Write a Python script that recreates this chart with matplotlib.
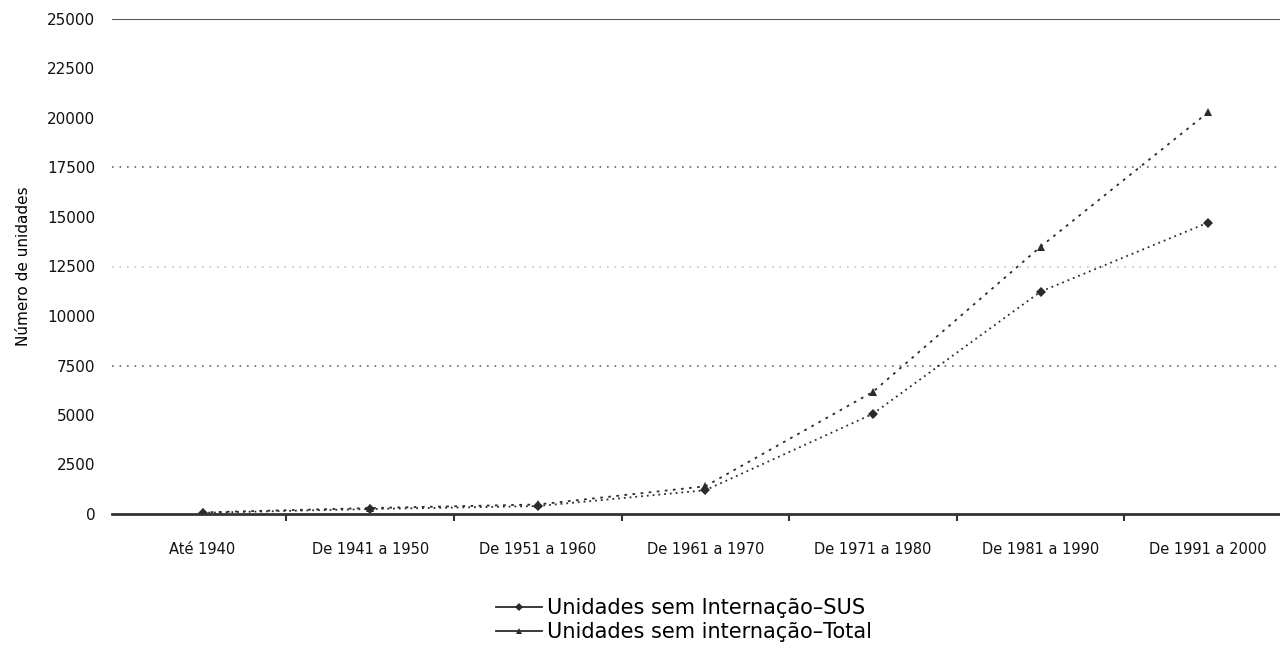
import numpy as np
import matplotlib
matplotlib.use("Agg")
import matplotlib.pyplot as plt
from matplotlib.lines import Line2D

# Unidades de saúde sem internação por período de construção
periodos = ["Até 1940", "De 1941 a 1950", "De 1951 a 1960", "De 1961 a 1970",
            "De 1971 a 1980", "De 1981 a 1990", "De 1991 a 2000"]
sus = [60, 250, 400, 1200, 5060, 11230, 14720]
total = [80, 300, 480, 1400, 6170, 13500, 20290]
yticks = [0, 2500, 5000, 7500, 10000, 12500, 15000, 17500, 20000, 22500, 25000]
grid_levels = [7500, 12500, 17500]

plt.rcParams['font.family'] = ['DejaVu Sans']

fig = plt.figure(figsize=(12.8, 6.48), dpi=100)
ax = fig.add_axes([112 / 1280, 1 - 514 / 648, 1180 / 1280, (514 - 19) / 648])

x = np.arange(len(periodos))
cor = '#2b2b2b'
ax.plot(x, sus, color=cor, linestyle=(0, (1, 2.2)), linewidth=1.3,
        marker='D', markersize=5, markeredgewidth=0)
ax.plot(x, total, color=cor, linestyle=(0, (1.5, 3)), linewidth=1.3,
        marker='^', markersize=6, markeredgewidth=0)

ax.set_ylim(0, 25000)
ax.set_xlim(-0.54, 6.5)

# linhas de grade só em alguns níveis
for g in grid_levels:
    ax.axhline(g, color='#555555', linestyle=(0, (1, 3.5)), linewidth=1.2,
               alpha=0.35 if g == 12500 else 0.9, zorder=0)
ax.axhline(25000, color='#555555', linewidth=1.5, zorder=0)

for s in ['left', 'right', 'top']:
    ax.spines[s].set_visible(False)
ax.spines['bottom'].set_linewidth(2)
ax.spines['bottom'].set_color('#333333')

ax.set_yticks(yticks)
ax.set_yticklabels([str(v) for v in yticks], fontsize=11, color='#111111')
ax.tick_params(axis='y', length=0, pad=12)

# rótulos no centro das categorias, marcas nos limites
ax.set_xticks(x)
ax.set_xticklabels(periodos, fontsize=10.5, color='#111111')
ax.set_xticks(x[:-1] + 0.5, minor=True)
ax.tick_params(axis='x', which='major', length=0, pad=20)
ax.tick_params(axis='x', which='minor', length=5, width=1.5, color='#333333')

ax.set_ylabel("Número de unidades", fontsize=11, labelpad=12)

handles = [
    Line2D([], [], color=cor, linewidth=1.3, marker='D', markersize=4, markeredgewidth=0),
    Line2D([], [], color=cor, linewidth=1.3, marker='^', markersize=5, markeredgewidth=0),
]
fig.legend(handles, ["Unidades sem Internação–SUS", "Unidades sem internação–Total"],
           loc='center', bbox_to_anchor=(684 / 1280, 1 - 620 / 648),
           frameon=False, fontsize=15, handlelength=2.2, handletextpad=0.25,
           labelspacing=0.2, borderpad=0)

fig.savefig("out.png", dpi=100)
